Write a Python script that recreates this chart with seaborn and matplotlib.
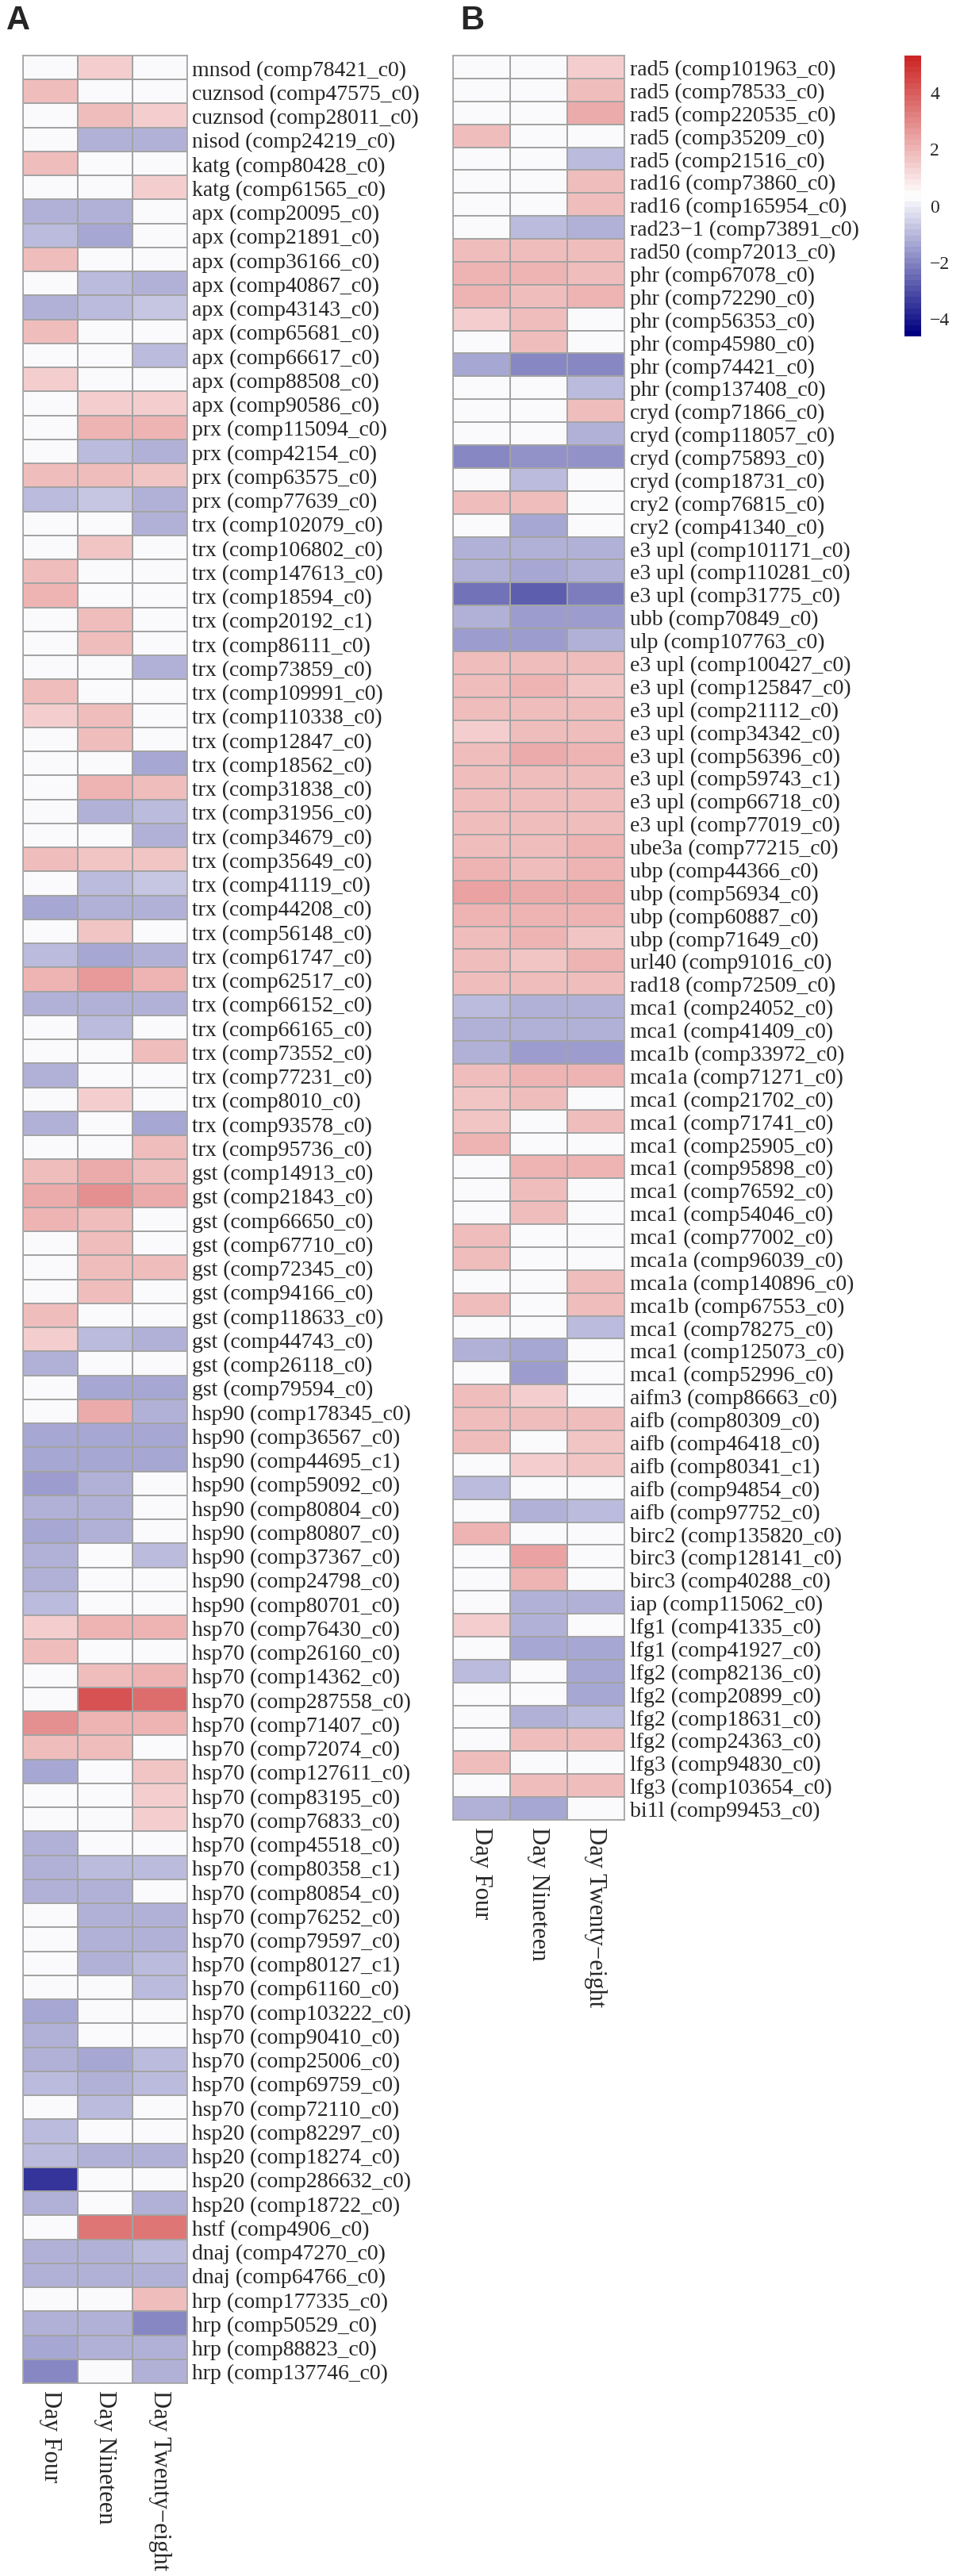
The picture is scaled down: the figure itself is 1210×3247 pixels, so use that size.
import numpy as np
import pandas as pd
import matplotlib
matplotlib.use("Agg")
import matplotlib.pyplot as plt
import seaborn as sns
from matplotlib.colors import LinearSegmentedColormap

# columns (time points)
days = ["Day Four", "Day Nineteen", "Day Twenty\u2212eight"]

# panel A: antioxidant / heat shock genes
genes_a = [
    "mnsod (comp78421_c0)", "cuznsod (comp47575_c0)", "cuznsod (comp28011_c0)", "nisod (comp24219_c0)",
    "katg (comp80428_c0)", "katg (comp61565_c0)", "apx (comp20095_c0)", "apx (comp21891_c0)",
    "apx (comp36166_c0)", "apx (comp40867_c0)", "apx (comp43143_c0)", "apx (comp65681_c0)",
    "apx (comp66617_c0)", "apx (comp88508_c0)", "apx (comp90586_c0)", "prx (comp115094_c0)",
    "prx (comp42154_c0)", "prx (comp63575_c0)", "prx (comp77639_c0)", "trx (comp102079_c0)",
    "trx (comp106802_c0)", "trx (comp147613_c0)", "trx (comp18594_c0)", "trx (comp20192_c1)",
    "trx (comp86111_c0)", "trx (comp73859_c0)", "trx (comp109991_c0)", "trx (comp110338_c0)",
    "trx (comp12847_c0)", "trx (comp18562_c0)", "trx (comp31838_c0)", "trx (comp31956_c0)",
    "trx (comp34679_c0)", "trx (comp35649_c0)", "trx (comp41119_c0)", "trx (comp44208_c0)",
    "trx (comp56148_c0)", "trx (comp61747_c0)", "trx (comp62517_c0)", "trx (comp66152_c0)",
    "trx (comp66165_c0)", "trx (comp73552_c0)", "trx (comp77231_c0)", "trx (comp8010_c0)",
    "trx (comp93578_c0)", "trx (comp95736_c0)", "gst (comp14913_c0)", "gst (comp21843_c0)",
    "gst (comp66650_c0)", "gst (comp67710_c0)", "gst (comp72345_c0)", "gst (comp94166_c0)",
    "gst (comp118633_c0)", "gst (comp44743_c0)", "gst (comp26118_c0)", "gst (comp79594_c0)",
    "hsp90 (comp178345_c0)", "hsp90 (comp36567_c0)", "hsp90 (comp44695_c1)", "hsp90 (comp59092_c0)",
    "hsp90 (comp80804_c0)", "hsp90 (comp80807_c0)", "hsp90 (comp37367_c0)", "hsp90 (comp24798_c0)",
    "hsp90 (comp80701_c0)", "hsp70 (comp76430_c0)", "hsp70 (comp26160_c0)", "hsp70 (comp14362_c0)",
    "hsp70 (comp287558_c0)", "hsp70 (comp71407_c0)", "hsp70 (comp72074_c0)", "hsp70 (comp127611_c0)",
    "hsp70 (comp83195_c0)", "hsp70 (comp76833_c0)", "hsp70 (comp45518_c0)", "hsp70 (comp80358_c1)",
    "hsp70 (comp80854_c0)", "hsp70 (comp76252_c0)", "hsp70 (comp79597_c0)", "hsp70 (comp80127_c1)",
    "hsp70 (comp61160_c0)", "hsp70 (comp103222_c0)", "hsp70 (comp90410_c0)", "hsp70 (comp25006_c0)",
    "hsp70 (comp69759_c0)", "hsp70 (comp72110_c0)", "hsp20 (comp82297_c0)", "hsp20 (comp18274_c0)",
    "hsp20 (comp286632_c0)", "hsp20 (comp18722_c0)", "hstf (comp4906_c0)", "dnaj (comp47270_c0)",
    "dnaj (comp64766_c0)", "hrp (comp177335_c0)", "hrp (comp50529_c0)", "hrp (comp88823_c0)",
    "hrp (comp137746_c0)",
]
day4_a = [
    0.2, 1.75, 0.2, 0.2, 1.75, 0.2, -1.25, -0.9, 1.75, 0.2, -1.25, 1.75, 0.2, 1.5, 0.2, 0.2,
    0.2, 1.8, -0.9, 0.2, 0.2, 1.75, 1.95, 0.2, 0.2, 0.2, 1.75, 1.5, 0.2, 0.2, 0.2, 0.2,
    0.2, 1.75, 0.2, -1.45, 0.2, -0.9, 1.95, -1.15, 0.2, 0.2, -1.25, 0.2, -1.25, 0.2, 1.75, 2.15,
    1.95, 0.2, 0.2, 0.2, 1.75, 1.5, -1.15, 0.2, 0.2, -1.45, -1.45, -1.55, -1.25, -1.3, -1.25, -1.15,
    -0.9, 1.5, 1.75, 0.2, 0.2, 2.8, 1.75, -1.4, 0.2, 0.2, -1.25, -1.15, -1.25, 0.2, 0.2, 0.2,
    0.2, -1.3, -1.25, -1.25, -1.0, 0.2, -1.0, -0.95, -3.5, -1.25, 0.2, -1.25, -1.25, 0.2, -1.25, -1.3,
    -2.0,
]
day19_a = [
    1.5, 0.2, 1.75, -1.15, 0.2, 0.2, -1.15, -1.4, 0.2, -0.9, -0.9, 0.2, 0.2, 0.2, 1.5, 2.0,
    -0.9, 1.8, -0.85, 0.2, 1.6, 0.2, 0.2, 1.75, 1.75, 0.2, 0.2, 1.75, 1.75, 0.2, 2.05, -1.15,
    0.2, 1.6, -0.9, -1.25, 1.6, -1.4, 2.6, -1.15, -0.9, 0.2, 0.2, 1.5, 0.2, 0.2, 2.15, 2.9,
    1.85, 1.75, 1.75, 1.75, 0.2, -0.9, 0.2, -1.45, 2.3, -1.45, -1.45, -1.25, -1.25, -1.25, 0.2, 0.2,
    0.2, 2.05, 0.2, 1.85, 4.3, 2.05, 1.85, 0.2, 0.2, 0.2, 0.2, -1.05, -1.25, -1.25, -1.25, -1.25,
    0.2, 0.2, 0.2, -1.45, -1.25, -1.0, 0.2, -1.25, 0.2, 0.2, 3.5, -1.25, -1.25, 0.2, -1.25, -1.15,
    0.2,
]
day28_a = [
    0.2, 0.2, 1.5, -1.15, 0.2, 1.5, 0.2, 0.2, 0.2, -1.25, -0.85, 0.2, -0.9, 0.2, 1.5, 2.0,
    -1.25, 1.6, -1.25, -1.25, 0.2, 0.2, 0.2, 0.2, 0.2, -1.25, 0.2, 0.2, 0.2, -1.45, 1.75, -0.9,
    -1.25, 1.6, -0.85, -1.15, 0.2, -1.15, 1.95, -1.15, 0.2, 1.75, 0.2, 0.2, -1.45, 1.75, 1.75, 2.25,
    0.2, 0.2, 1.75, 0.2, 0.2, -1.15, 0.2, -1.45, -1.25, -1.45, -1.45, 0.2, 0.2, 0.2, -0.9, 0.2,
    0.2, 2.05, 0.2, 2.05, 3.6, 2.05, 0.2, 1.6, 1.5, 1.5, 0.2, -0.9, 0.2, -1.25, -1.25, -0.9,
    -1.0, 0.2, 0.2, -0.95, -0.95, 0.2, 0.2, -1.25, 0.2, -1.25, 3.5, -0.95, -1.25, 1.85, -2.0, -1.25,
    -1.25,
]

# panel B: DNA repair / apoptosis genes
genes_b = [
    "rad5 (comp101963_c0)", "rad5 (comp78533_c0)", "rad5 (comp220535_c0)", "rad5 (comp35209_c0)",
    "rad5 (comp21516_c0)", "rad16 (comp73860_c0)", "rad16 (comp165954_c0)", "rad23\u22121 (comp73891_c0)",
    "rad50 (comp72013_c0)", "phr (comp67078_c0)", "phr (comp72290_c0)", "phr (comp56353_c0)",
    "phr (comp45980_c0)", "phr (comp74421_c0)", "phr (comp137408_c0)", "cryd (comp71866_c0)",
    "cryd (comp118057_c0)", "cryd (comp75893_c0)", "cryd (comp18731_c0)", "cry2 (comp76815_c0)",
    "cry2 (comp41340_c0)", "e3 upl (comp101171_c0)", "e3 upl (comp110281_c0)", "e3 upl (comp31775_c0)",
    "ubb (comp70849_c0)", "ulp (comp107763_c0)", "e3 upl (comp100427_c0)", "e3 upl (comp125847_c0)",
    "e3 upl (comp21112_c0)", "e3 upl (comp34342_c0)", "e3 upl (comp56396_c0)", "e3 upl (comp59743_c1)",
    "e3 upl (comp66718_c0)", "e3 upl (comp77019_c0)", "ube3a (comp77215_c0)", "ubp (comp44366_c0)",
    "ubp (comp56934_c0)", "ubp (comp60887_c0)", "ubp (comp71649_c0)", "url40 (comp91016_c0)",
    "rad18 (comp72509_c0)", "mca1 (comp24052_c0)", "mca1 (comp41409_c0)", "mca1b (comp33972_c0)",
    "mca1a (comp71271_c0)", "mca1 (comp21702_c0)", "mca1 (comp71741_c0)", "mca1 (comp25905_c0)",
    "mca1 (comp95898_c0)", "mca1 (comp76592_c0)", "mca1 (comp54046_c0)", "mca1 (comp77002_c0)",
    "mca1a (comp96039_c0)", "mca1a (comp140896_c0)", "mca1b (comp67553_c0)", "mca1 (comp78275_c0)",
    "mca1 (comp125073_c0)", "mca1 (comp52996_c0)", "aifm3 (comp86663_c0)", "aifb (comp80309_c0)",
    "aifb (comp46418_c0)", "aifb (comp80341_c1)", "aifb (comp94854_c0)", "aifb (comp97752_c0)",
    "birc2 (comp135820_c0)", "birc3 (comp128141_c0)", "birc3 (comp40288_c0)", "iap (comp115062_c0)",
    "lfg1 (comp41335_c0)", "lfg1 (comp41927_c0)", "lfg2 (comp82136_c0)", "lfg2 (comp20899_c0)",
    "lfg2 (comp18631_c0)", "lfg2 (comp24363_c0)", "lfg3 (comp94830_c0)", "lfg3 (comp103654_c0)",
    "bi1l (comp99453_c0)",
]
day4_b = [
    0.2, 0.2, 0.2, 1.85, 0.2, 0.2, 0.2, 0.2, 1.75, 1.95, 1.95, 1.5, 0.2, -1.45, 0.2, 0.2,
    0.2, -2.0, 0.2, 1.85, 0.2, -1.25, -1.25, -2.3, -1.25, -1.5, 1.85, 1.85, 1.85, 1.5, 1.85, 1.85,
    1.85, 1.85, 1.85, 1.95, 2.4, 1.95, 1.85, 1.85, 1.85, -1.0, -1.25, -1.25, 1.85, 1.6, 1.6, 1.95,
    0.2, 0.2, 0.2, 1.75, 1.85, 0.2, 1.85, 0.2, -1.15, 0.2, 1.85, 1.85, 1.85, 0.2, -1.0, 0.2,
    1.95, 0.2, 0.2, 0.2, 1.5, 0.2, -1.0, 0.2, 0.2, 0.2, 1.85, 0.2, -1.25,
]
day19_b = [
    0.2, 0.2, 0.2, 0.2, 0.2, 0.2, 0.2, -0.9, 1.75, 1.95, 1.85, 1.75, 1.75, -2.0, 0.2, 0.2,
    0.2, -1.7, -0.9, 1.85, -1.4, -1.25, -1.4, -2.7, -1.5, -1.5, 1.85, 1.95, 1.75, 1.75, 2.15, 1.75,
    1.75, 1.85, 1.85, 1.85, 2.3, 1.95, 1.95, 1.7, 1.85, -1.15, -1.15, -1.6, 1.95, 1.85, 0.2, 0.2,
    1.95, 1.85, 1.85, 0.2, 0.2, 0.2, 0.2, 0.2, -1.4, -1.6, 1.5, 1.75, 0.2, 1.5, 0.2, -1.25,
    0.2, 2.4, 2.05, -1.25, -1.25, -1.45, 0.2, 0.2, -1.25, 1.85, 0.2, 1.75, -1.4,
]
day28_b = [
    1.5, 1.85, 2.3, 0.2, -0.9, 1.75, 1.75, -1.15, 1.75, 1.75, 1.95, 0.2, 0.2, -2.0, -1.0, 1.75,
    -1.25, -1.7, 0.2, 0.2, 0.2, -1.15, -1.15, -2.2, -1.5, -1.25, 1.85, 1.6, 1.75, 1.75, 1.95, 1.75,
    1.85, 1.85, 1.95, 1.95, 2.3, 1.95, 1.7, 1.95, 1.85, -1.15, -1.15, -1.6, 1.95, 0.2, 1.85, 0.2,
    1.95, 0.2, 0.2, 0.2, 0.2, 1.85, 1.85, -0.9, 0.2, 0.2, 0.2, 1.85, 1.6, 1.6, 0.2, -0.9,
    0.2, 0.2, 0.2, -1.25, 0.2, -1.35, -1.35, -1.35, -0.9, 1.85, 0.2, 1.75, 0.2,
]

sns.set_theme(style="white")
plt.rcParams["font.family"] = ["Liberation Serif", "DejaVu Serif"]

# navy - white - firebrick3 ramp, 50 steps like pheatmap
cmap = LinearSegmentedColormap.from_list("nwf", ["#000080", "#ffffff", "#CD2626"], N=50)
vmin, vmax = -4.65, 5.3

W, H = 1210, 3248
fig = plt.figure(figsize=(W / 100, H / 100), dpi=100)


def px_axes(x0, y0, x1, y1):
    return fig.add_axes([x0 / W, 1 - y1 / H, (x1 - x0) / W, (y1 - y0) / H])


ax_a = px_axes(28.5, 71, 235.5, 3005)
ax_b = px_axes(571, 71, 787, 2295)
cax = px_axes(1140, 71, 1161, 425)


def draw(ax, genes, d4, d19, d28):
    df = pd.DataFrame({days[0]: d4, days[1]: d19, days[2]: d28}, index=genes)
    sns.heatmap(df, ax=ax, cmap=cmap, vmin=vmin, vmax=vmax, cbar=False,
                linewidths=1.2, linecolor="#a3a3a3",
                xticklabels=True, yticklabels=True)
    for sp in ax.spines.values():
        sp.set_visible(True)
        sp.set_color("#a3a3a3")
        sp.set_linewidth(1.2)
    ax.yaxis.tick_right()
    ax.tick_params(axis="y", length=0, pad=5, labelsize=20, labelrotation=0)
    ax.tick_params(axis="x", length=0, pad=6, labelsize=22, labelrotation=-90)
    ax.set_xlabel("")
    ax.set_ylabel("")


draw(ax_a, genes_a, day4_a, day19_a, day28_a)
draw(ax_b, genes_b, day4_b, day19_b, day28_b)

cb = fig.colorbar(ax_a.collections[0], cax=cax, ticks=[-4, -2, 0, 2, 4])
cb.outline.set_visible(False)
cax.tick_params(length=0, pad=8, labelsize=17)

fig.text(8 / W, 1 - 6 / H, "A", fontsize=30, fontweight="bold",
         family="Liberation Sans", ha="left", va="top")
fig.text(580 / W, 1 - 6 / H, "B", fontsize=30, fontweight="bold",
         family="Liberation Sans", ha="left", va="top")

fig.savefig("out.png", dpi=100, facecolor="white")
